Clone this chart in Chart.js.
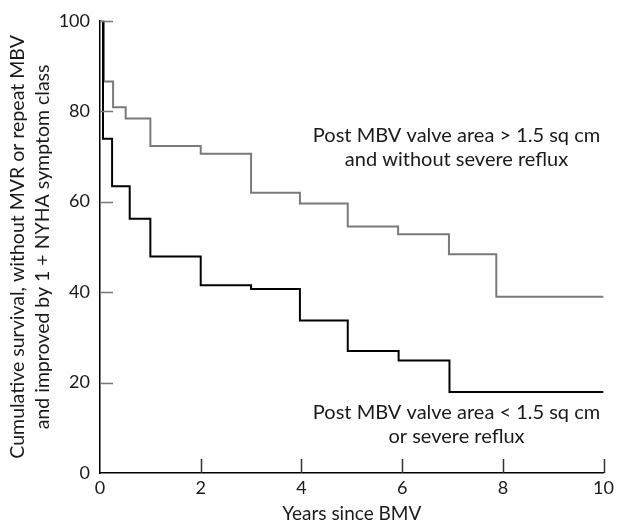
<!DOCTYPE html>
<html>
<head>
<meta charset="utf-8">
<script src="https://cdn.jsdelivr.net/npm/chart.js@4.4.1/dist/chart.umd.min.js"></script>
<style>
  html, body { margin: 0; padding: 0; background: #fff; }
  #wrap { width: 618px; height: 526px; }
</style>
</head>
<body>
<div id="wrap"><canvas id="survivalChart" width="618" height="526"></canvas></div>
<script>
// Kaplan-Meier style curves (years, cumulative %)
const goodTimes = [0, 0.08, 0.26, 0.51, 1.0, 2.0, 3.0, 3.97, 4.92, 5.92, 6.93, 7.87, 10];
const goodSurvival = [100, 86.6, 80.9, 78.4, 72.3, 70.6, 62.0, 59.6, 54.5, 52.8, 48.4, 39.0, 39.0];
const poorTimes = [0, 0.06, 0.24, 0.59, 1.0, 2.0, 3.0, 3.97, 4.92, 5.93, 6.94, 10];
const poorSurvival = [100, 73.9, 63.4, 56.2, 47.9, 41.5, 40.7, 33.7, 27.0, 24.9, 17.9, 17.9];
const xTicks = [0, 2, 4, 6, 8, 10];
const yTicks = [0, 20, 40, 60, 80, 100];

const FONT = 'Lato';
const textColor = '#1a1a1a';

function toPoints(times, values) {
    return times.map(function(t, i) { return { x: t, y: values[i] }; });
}

// inward tick marks + curve captions
const decorations = {
    id: 'decorations',
    afterDraw: function(chart) {
        const ctx = chart.ctx;
        const xs = chart.scales.x;
        const ys = chart.scales.y;
        const area = chart.chartArea;
        ctx.save();
        ctx.lineWidth = 1.5;
        // y ticks point right into the plot
        ctx.strokeStyle = '#777';
        yTicks.forEach(function(v) {
            if (v === 0) return;
            const py = Math.round(ys.getPixelForValue(v)) + 0.5;
            ctx.beginPath();
            ctx.moveTo(area.left, py);
            ctx.lineTo(area.left + 13, py);
            ctx.stroke();
        });
        // x ticks point up
        ctx.strokeStyle = '#333';
        xTicks.forEach(function(v) {
            if (v === 0) return;
            const px = Math.round(xs.getPixelForValue(v)) + 0.5;
            ctx.beginPath();
            ctx.moveTo(px, area.bottom);
            ctx.lineTo(px, area.bottom - 14);
            ctx.stroke();
        });
        // captions
        ctx.fillStyle = textColor;
        ctx.font = '20px ' + FONT;
        ctx.textAlign = 'center';
        ctx.textBaseline = 'middle';
        const cx = xs.getPixelForValue(7.08);
        ctx.fillText('Post MBV valve area > 1.5 sq cm', cx, ys.getPixelForValue(74.6));
        ctx.fillText('and without severe reflux', cx, ys.getPixelForValue(69.3));
        ctx.fillText('Post MBV valve area < 1.5 sq cm', cx, ys.getPixelForValue(13.3));
        ctx.fillText('or severe reflux', cx, ys.getPixelForValue(8.0));
        ctx.restore();
    }
};

const ctx = document.getElementById('survivalChart');
new Chart(ctx, {
    type: 'line',
    data: {
        datasets: [
            {
                label: 'Post MBV valve area < 1.5 sq cm or severe reflux',
                data: toPoints(poorTimes, poorSurvival),
                borderColor: '#000',
                borderWidth: 2,
                stepped: true,
                pointRadius: 0,
                fill: false
            },
            {
                label: 'Post MBV valve area > 1.5 sq cm and without severe reflux',
                data: toPoints(goodTimes, goodSurvival),
                borderColor: '#7a7a7a',
                borderWidth: 2,
                stepped: true,
                pointRadius: 0,
                fill: false
            }
        ]
    },
    options: {
        responsive: false,
        animation: false,
        layout: {
            padding: { top: 18, right: 12, left: 0, bottom: 0 }
        },
        plugins: {
            legend: { display: false },
            tooltip: { enabled: false }
        },
        scales: {
            x: {
                type: 'linear',
                min: 0,
                max: 10,
                afterFit: function(scale) { scale.height = 53; },
                afterBuildTicks: function(scale) {
                    scale.ticks = xTicks.map(function(v) { return { value: v }; });
                },
                grid: { display: false, drawTicks: false },
                border: { display: true, color: '#000', width: 1.5 },
                ticks: {
                    color: textColor,
                    padding: 4,
                    font: { family: FONT, size: 18 },
                    maxRotation: 0
                },
                title: {
                    display: true,
                    text: 'Years since BMV',
                    color: textColor,
                    font: { family: FONT, size: 19 },
                    padding: { top: 0, bottom: 1 }
                }
            },
            y: {
                type: 'linear',
                min: 0,
                max: 100,
                afterFit: function(scale) { scale.width = 100; },
                afterBuildTicks: function(scale) {
                    scale.ticks = yTicks.map(function(v) { return { value: v }; });
                },
                grid: { display: false, drawTicks: false },
                border: { display: true, color: '#000', width: 1.5 },
                ticks: {
                    color: textColor,
                    padding: 10,
                    font: { family: FONT, size: 18 }
                },
                title: {
                    display: true,
                    text: ['Cumulative survival, without MVR or repeat MBV',
                           'and improved by 1 + NYHA symptom class'],
                    color: textColor,
                    font: { family: FONT, size: 19.5, lineHeight: 1.25 },
                    padding: { top: 6, bottom: 0 }
                }
            }
        }
    },
    plugins: [decorations]
});
</script>
</body>
</html>
